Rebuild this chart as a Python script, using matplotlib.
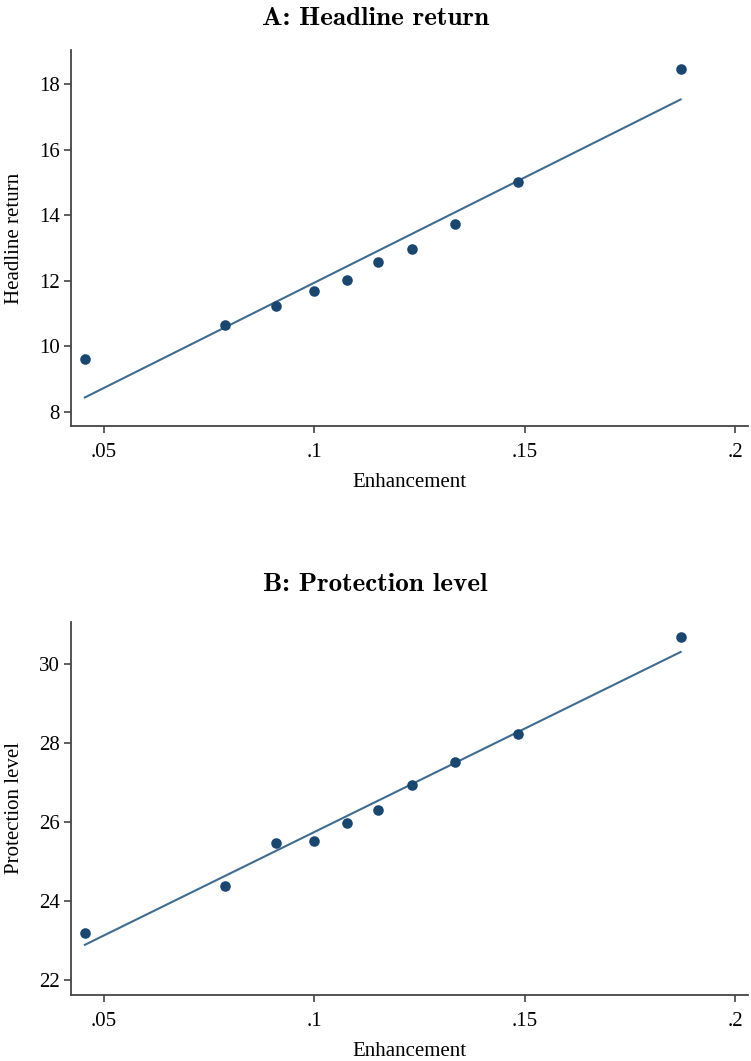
import numpy as np
import matplotlib.pyplot as plt

# binned scatter points
enh = [0.0455, 0.0787, 0.0908, 0.1000, 0.1078, 0.1152, 0.1232, 0.1334, 0.1483, 0.1870]
headline = [9.60, 10.64, 11.22, 11.68, 12.01, 12.56, 12.96, 13.73, 15.01, 18.46]
protection = [23.19, 24.38, 25.47, 25.52, 25.97, 26.30, 26.94, 27.52, 28.23, 30.68]

# fitted line end points
fit_x = [0.0455, 0.187]
fit_headline = [8.44, 17.53]
fit_protection = [22.89, 30.30]

xticks = [0.05, 0.10, 0.15, 0.20]
xticklabels = ['.05', '.1', '.15', '.2']
yticks_a = [8, 10, 12, 14, 16, 18]
yticks_b = [22, 24, 26, 28, 30]

plt.rcParams['font.family'] = ['Liberation Serif', 'DejaVu Serif']

navy = '#1a476f'
linec = '#3f6b8f'

fig = plt.figure(figsize=(7.51, 10.61), dpi=100)
ax1 = fig.add_axes([0.0945, 0.5985, 0.902, 0.3544])
ax2 = fig.add_axes([0.0945, 0.0622, 0.902, 0.3516])

panels = [
    (ax1, headline, fit_headline, yticks_a, (7.57, 19.04), 'Headline return', 'A: Headline return', 0.983),
    (ax2, protection, fit_protection, yticks_b, (21.62, 31.06), 'Protection level', 'B: Protection level', 0.449),
]

for ax, yv, fy, yt, ylim, ylab, title, ty in panels:
    ax.plot(fit_x, fy, color=linec, lw=1.5, zorder=2)
    ax.scatter(enh, yv, s=58, color=navy, zorder=3, linewidths=0)
    ax.set_xlim(0.0422, 0.2031)
    ax.set_ylim(*ylim)
    ax.set_xticks(xticks)
    ax.set_xticklabels(xticklabels)
    ax.set_yticks(yt)
    ax.set_yticklabels([str(t) for t in yt])
    ax.tick_params(direction='out', length=5, width=1.2, color='#444444',
                   labelsize=15, pad=3)
    ax.tick_params(axis='x', pad=7)
    ax.spines['top'].set_visible(False)
    ax.spines['right'].set_visible(False)
    for s in ['left', 'bottom']:
        ax.spines[s].set_color('#444444')
        ax.spines[s].set_linewidth(1.3)
    ax.set_xlabel('Enhancement', fontsize=15, labelpad=8)
    ax.set_ylabel(ylab, fontsize=15, labelpad=11)
    fig.text(0.5, ty, title, ha='center', va='center', family='cmb10', fontsize=19.5)

fig.savefig('out.png', dpi=100)
